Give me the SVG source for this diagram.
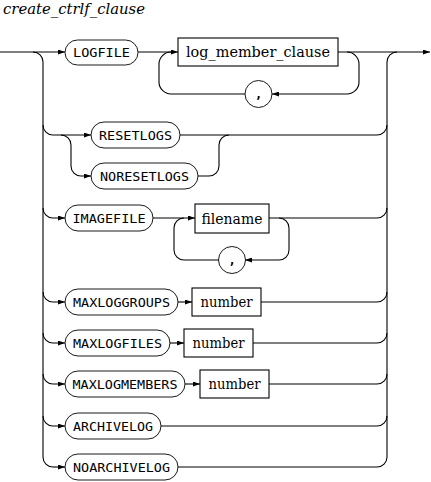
<svg xmlns="http://www.w3.org/2000/svg" width="431" height="482" viewBox="0 0 431 482">
<style>
.ln{fill:none;stroke:#000;stroke-width:1.1}
.ar{marker-end:url(#arr)}
.pill{fill:#fff;stroke:#000;stroke-width:0.9}
.box{fill:#fff;stroke:#000;stroke-width:1.1}
.kw{font-family:'DejaVu Sans Mono','Liberation Mono',monospace;font-size:12px;text-anchor:middle;fill:#000}
.nt{font-family:'DejaVu Serif','Liberation Serif',serif;font-size:15px;text-anchor:middle;fill:#000}
.title{font-family:'DejaVu Serif','Liberation Serif',serif;font-style:italic;font-size:15px;fill:#000}
</style>
<defs>
<marker id="arr" viewBox="0 0 7 5" refX="7" refY="2.5" markerWidth="7" markerHeight="5" markerUnits="userSpaceOnUse" orient="auto">
<path d="M0,0 L7,2.5 L0,5 z" fill="#000"/>
</marker>
</defs>
<text class="title" x="3" y="14" textLength="142" lengthAdjust="spacingAndGlyphs">create_ctrlf_clause</text>
<g id="connectors">
<path class="ln ar" d="M0,52 H65"/>
<path class="ln" d="M33,52 A10,10 0 0 1 43,62 V457 A10,10 0 0 0 53,467"/>
<path class="ln ar" d="M53,467 H65"/>
<path class="ln ar" d="M138,52 H178"/>
<path class="ln ar" d="M338,52 H430"/>
<path class="ln ar" d="M347,52 A12,12 0 0 1 359,64 V82 A12,12 0 0 1 347,94 H272"/>
<path class="ln" d="M245,94 H171 A12,12 0 0 1 159,82 V64 A12,12 0 0 1 171,52"/>
<path class="ln ar" d="M43,125 A10,10 0 0 0 53,135 H91"/>
<path class="ln ar" d="M61,135 A10,10 0 0 1 71,145 V166 A10,10 0 0 0 81,176 H91"/>
<path class="ln" d="M180,135 H377 A10,10 0 0 0 387,125"/>
<path class="ln" d="M198,176 H209 A10,10 0 0 0 219,166 V145 A10,10 0 0 1 229,135"/>
<path class="ln" d="M387,457 V62 A10,10 0 0 1 397,52"/>
<path class="ln ar" d="M43,208 A10,10 0 0 0 53,218 H65"/>
<path class="ln ar" d="M153,218 H195"/>
<path class="ln" d="M269,218 H377 A10,10 0 0 0 387,208"/>
<path class="ln ar" d="M279,218 A10,10 0 0 1 289,228 V250 A10,10 0 0 1 279,260 H245"/>
<path class="ln" d="M219,260 H184 A10,10 0 0 1 174,250 V228 A10,10 0 0 1 184,218"/>
<path class="ln ar" d="M43,292 A10,10 0 0 0 53,302 H65"/>
<path class="ln ar" d="M178,302 H192"/>
<path class="ln" d="M261,302 H377 A10,10 0 0 0 387,292"/>
<path class="ln ar" d="M43,333 A10,10 0 0 0 53,343 H65"/>
<path class="ln ar" d="M170,343 H184"/>
<path class="ln" d="M253,343 H377 A10,10 0 0 0 387,333"/>
<path class="ln ar" d="M43,374 A10,10 0 0 0 53,384 H65"/>
<path class="ln ar" d="M185,384 H200"/>
<path class="ln" d="M269,384 H377 A10,10 0 0 0 387,374"/>
<path class="ln ar" d="M43,416 A10,10 0 0 0 53,426 H65"/>
<path class="ln" d="M161,426 H377 A10,10 0 0 0 387,416"/>
<path class="ln" d="M178,467 H377 A10,10 0 0 0 387,457"/>
</g>
<g id="n-logfile"><rect class="pill" x="65" y="40" width="73" height="25" rx="12.5"/><text class="kw" x="101.5" y="57" textLength="57" lengthAdjust="spacingAndGlyphs">LOGFILE</text></g>
<g id="n-log_member_clause"><rect class="box" x="178" y="38" width="160" height="28"/><text class="nt" x="258" y="57" textLength="144" lengthAdjust="spacingAndGlyphs">log_member_clause</text></g>
<g id="n-comma1"><circle class="pill" cx="258.5" cy="94" r="13.5"/><text class="kw" font-weight="bold" x="258.5" y="98">,</text></g>
<g id="n-resetlogs"><rect class="pill" x="91" y="122" width="89" height="26" rx="13"/><text class="kw" x="135.5" y="139.5" textLength="73" lengthAdjust="spacingAndGlyphs">RESETLOGS</text></g>
<g id="n-noresetlogs"><rect class="pill" x="91" y="163" width="107" height="26" rx="13"/><text class="kw" x="144.5" y="180.5" textLength="89" lengthAdjust="spacingAndGlyphs">NORESETLOGS</text></g>
<g id="n-imagefile"><rect class="pill" x="65" y="205" width="88" height="26" rx="13"/><text class="kw" x="109" y="222.5" textLength="73" lengthAdjust="spacingAndGlyphs">IMAGEFILE</text></g>
<g id="n-filename"><rect class="box" x="195" y="204" width="74" height="29"/><text class="nt" x="232" y="223.5" textLength="61" lengthAdjust="spacingAndGlyphs">filename</text></g>
<g id="n-comma2"><circle class="pill" cx="232" cy="260" r="13.5"/><text class="kw" font-weight="bold" x="232" y="264">,</text></g>
<g id="n-maxloggroups"><rect class="pill" x="65" y="289" width="113" height="26" rx="13"/><text class="kw" x="121.5" y="306.5" textLength="97" lengthAdjust="spacingAndGlyphs">MAXLOGGROUPS</text></g>
<g id="n-number1"><rect class="box" x="192" y="288" width="69" height="28"/><text class="nt" x="226.5" y="307" textLength="52" lengthAdjust="spacingAndGlyphs">number</text></g>
<g id="n-maxlogfiles"><rect class="pill" x="65" y="330" width="105" height="26" rx="13"/><text class="kw" x="117.5" y="347.5" textLength="89" lengthAdjust="spacingAndGlyphs">MAXLOGFILES</text></g>
<g id="n-number2"><rect class="box" x="184" y="329" width="69" height="28"/><text class="nt" x="218.5" y="348" textLength="52" lengthAdjust="spacingAndGlyphs">number</text></g>
<g id="n-maxlogmembers"><rect class="pill" x="65" y="371" width="120" height="26" rx="13"/><text class="kw" x="125" y="388.5" textLength="105" lengthAdjust="spacingAndGlyphs">MAXLOGMEMBERS</text></g>
<g id="n-number3"><rect class="box" x="200" y="370" width="69" height="28"/><text class="nt" x="234.5" y="389" textLength="52" lengthAdjust="spacingAndGlyphs">number</text></g>
<g id="n-archivelog"><rect class="pill" x="65" y="413" width="96" height="26" rx="13"/><text class="kw" x="113" y="430.5" textLength="80" lengthAdjust="spacingAndGlyphs">ARCHIVELOG</text></g>
<g id="n-noarchivelog"><rect class="pill" x="65" y="454" width="113" height="26" rx="13"/><text class="kw" x="121.5" y="471.5" textLength="97" lengthAdjust="spacingAndGlyphs">NOARCHIVELOG</text></g>
</svg>
